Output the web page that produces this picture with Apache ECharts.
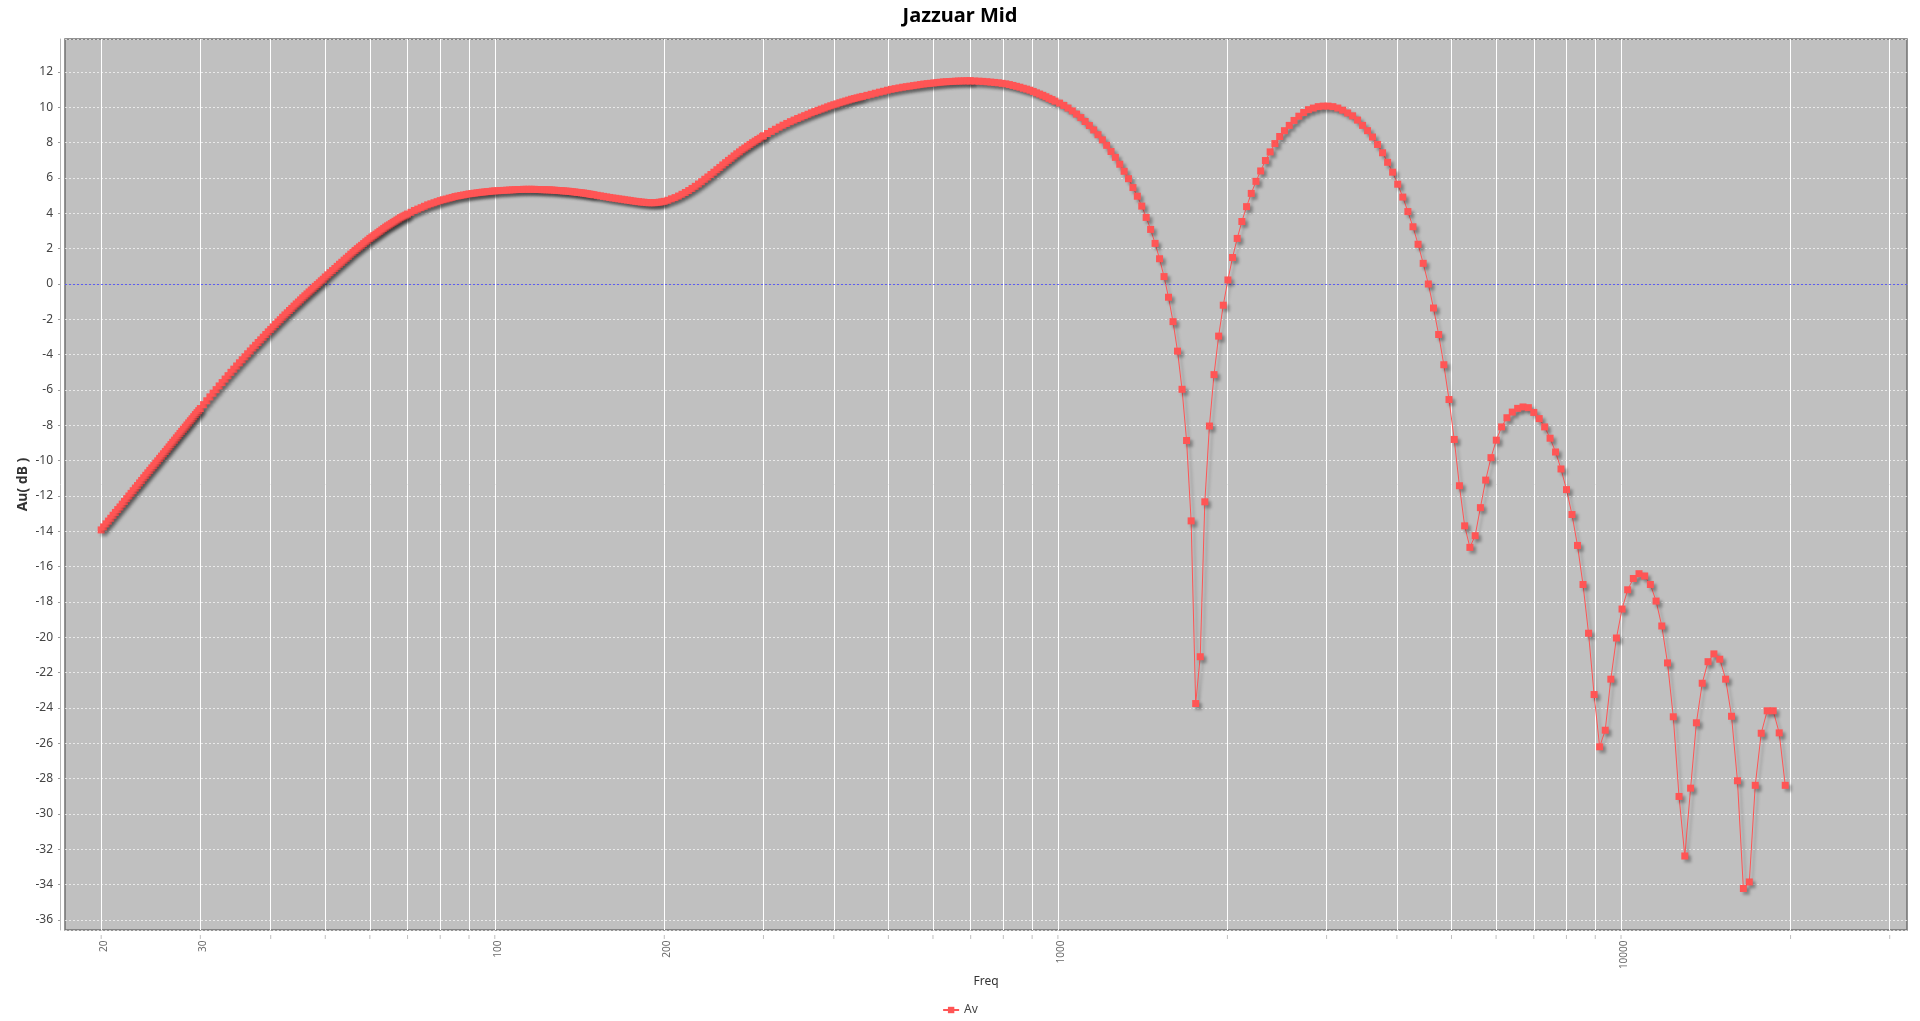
<!DOCTYPE html>
<html>
<head>
<meta charset="utf-8">
<title>Jazzuar Mid</title>
<script src="https://cdn.jsdelivr.net/npm/echarts@6/dist/echarts.min.js"></script>
<style>
html,body{margin:0;padding:0;background:#ffffff;}
#chart{width:1920px;height:1021px;}
</style>
</head>
<body>
<div id="chart"></div>
<script>
// ---- Data: frequency (Hz) and gain Av (dB) ----
const freqHz = [
  20,20.2,20.4,20.6,20.8,21,21.2,21.4,21.6,21.8,22,22.2,22.4,22.6,22.8,23,23.2,23.4,23.6,23.8,24,24.2,24.4,24.6,24.8,25,25.2,25.4,25.6,25.8,26,26.2,26.4,26.6,26.8,27,27.2,27.4,27.6,27.8,28,28.2,28.4,28.6,28.8,29,29.2,29.4,29.6,29.8,
  30,30.4,30.8,31.2,31.6,32,32.4,32.8,33.2,33.6,34,34.4,34.8,35.2,35.6,36,36.4,36.8,37.2,37.6,38,38.4,38.8,39.2,39.6,40,40.4,40.8,41.2,41.6,42,42.4,42.8,43.2,43.6,44,44.4,44.8,45.2,45.6,46,46.4,46.8,47.2,47.6,48,48.4,48.8,49.2,49.6,
  50,50.5,51,51.5,52,52.5,53,53.5,54,54.5,55,55.5,56,56.5,57,57.5,58,58.5,59,59.5,60,60.5,61,61.5,62,62.5,63,63.5,64,64.5,65,65.5,66,66.5,67,67.5,68,68.5,69,69.5,
  70,71,72,73,74,75,76,77,78,79,80,81,82,83,84,85,86,87,88,89,90,91,92,93,94,95,96,97,98,99,
  100,101.25,102.5,103.75,105,106.25,107.5,108.75,110,111.25,112.5,113.75,115,116.25,117.5,118.75,120,121.25,122.5,123.75,125,126.25,127.5,128.75,130,131.25,132.5,133.75,135,136.25,137.5,138.75,140,141.25,142.5,143.75,145,146.25,147.5,148.75,
  150,152,154,156,158,160,162,164,166,168,170,172,174,176,178,180,182,184,186,188,190,192,194,196,198,
  200,203,206,209,212,215,218,221,224,227,230,233,236,239,242,245,248,251,254,257,260,263,266,269,272,275,278,281,284,287,290,293,296,299,
  300,305,310,315,320,325,330,335,340,345,350,355,360,365,370,375,380,385,390,395,400,405,410,415,420,425,430,435,440,445,
  450,458,466,474,482,490,498,506,514,522,530,538,546,554,562,570,578,586,594,602,610,618,626,634,642,650,658,666,674,682,690,698,
  700,712,724,736,748,760,772,784,796,808,820,832,844,856,868,880,892,904,916,928,940,952,964,976,988,
  1006.9,1024.5,1042.4,1060.7,1079.3,1098.3,1117.7,1137.5,1157.7,1178.3,
  1199.3,1220.8,1242.6,1265.0,1287.8,1311.0,1334.7,1359.0,1383.7,1409.0,
  1434.7,1461.0,1487.9,1515.3,1543.3,1571.9,1601.1,1630.9,1661.3,1692.4,
  1724.2,1756.6,1789.7,1823.6,1858.1,1893.4,1929.5,1966.3,2004.0,2042.4,
  2081.7,2121.8,2162.9,2204.8,2247.6,2291.4,2336.2,2381.9,2428.7,2476.5,
  2525.3,2575.3,2626.3,2678.5,2731.9,2786.5,2842.3,2899.4,2957.8,3017.4,
  3078.5,3140.9,3204.8,3270.1,3337.0,3405.3,3475.3,3546.9,3620.1,3695.0,
  3771.7,3850.2,3930.4,4012.6,4096.7,4182.8,4270.9,4361.1,4453.4,4548.0,
  4644.7,4743.8,4845.3,4949.2,5055.6,5164.5,5276.1,5390.4,5507.4,5627.3,
  5750.1,5875.9,6004.8,6136.8,6272.1,6410.7,6552.8,6698.3,6847.5,7000.3,
  7157.0,7317.6,7482.2,7650.9,7823.9,8001.1,8182.9,8369.3,8560.5,8756.5,
  8957.5,9163.6,9375.0,9591.8,9814.2,10042,10276,10516,10763,11016,
  11275,11541,11814,12094,12382,12677,12980,13291,13610,13938,
  14274,14620,14975,15339,15713,16097,16492,16897,17313,17741,
  18180,18631,19095,19571
];
const gainDb = [
  -13.92,-13.75,-13.58,-13.42,-13.26,-13.09,-12.93,-12.77,-12.62,-12.46,-12.31,-12.15,-12.00,-11.85,-11.70,-11.55,-11.41,-11.26,-11.12,-10.97,-10.83,-10.69,-10.55,-10.41,-10.28,-10.14,-10.01,-9.87,-9.74,-9.61,-9.48,-9.35,-9.22,-9.09,-8.96,-8.84,-8.71,-8.59,-8.46,-8.34,-8.22,-8.10,-7.98,-7.86,-7.74,-7.63,-7.51,-7.39,-7.28,-7.17,
  -7.05,-6.83,-6.61,-6.39,-6.18,-5.98,-5.77,-5.58,-5.38,-5.19,-5.00,-4.82,-4.64,-4.46,-4.29,-4.12,-3.95,-3.79,-3.62,-3.47,-3.31,-3.16,-3.01,-2.86,-2.71,-2.57,-2.43,-2.29,-2.15,-2.02,-1.88,-1.75,-1.63,-1.50,-1.38,-1.25,-1.13,-1.02,-0.90,-0.78,-0.67,-0.56,-0.45,-0.34,-0.24,-0.13,-0.03,0.07,0.18,0.27,
  0.40,0.52,0.64,0.76,0.88,1.00,1.12,1.23,1.35,1.46,1.57,1.69,1.80,1.90,2.00,2.10,2.19,2.29,2.39,2.48,2.58,2.66,2.74,2.82,2.90,2.98,3.06,3.14,3.22,3.29,3.35,3.42,3.49,3.55,3.62,3.68,3.75,3.80,3.85,3.90,
  3.96,4.06,4.16,4.24,4.32,4.40,4.48,4.54,4.60,4.66,4.72,4.77,4.81,4.86,4.90,4.95,4.98,5.01,5.04,5.07,5.10,5.12,5.14,5.16,5.18,5.20,5.21,5.23,5.24,5.26,
  5.27,5.28,5.29,5.30,5.31,5.32,5.33,5.34,5.35,5.35,5.36,5.36,5.36,5.36,5.36,5.35,5.35,5.34,5.34,5.33,5.33,5.32,5.31,5.30,5.29,5.28,5.27,5.26,5.25,5.24,5.22,5.21,5.19,5.18,5.16,5.15,5.13,5.11,5.09,5.07,
  5.05,5.02,4.99,4.96,4.93,4.90,4.87,4.85,4.82,4.80,4.77,4.75,4.73,4.70,4.68,4.66,4.64,4.63,4.61,4.60,4.60,4.60,4.61,4.63,4.65,
  4.68,4.74,4.82,4.89,4.98,5.08,5.18,5.29,5.41,5.53,5.66,5.79,5.93,6.06,6.20,6.33,6.47,6.60,6.74,6.87,7.00,7.12,7.25,7.37,7.48,7.60,7.70,7.80,7.90,8.00,8.09,8.18,8.26,8.35,
  8.39,8.52,8.64,8.76,8.88,8.99,9.09,9.19,9.28,9.37,9.45,9.53,9.61,9.69,9.76,9.83,9.90,9.96,10.03,10.09,10.15,10.20,10.26,10.31,10.36,10.41,10.46,10.50,10.54,10.58,
  10.62,10.68,10.74,10.80,10.86,10.91,10.97,11.02,11.06,11.10,11.14,11.17,11.20,11.23,11.26,11.29,11.32,11.34,11.36,11.38,11.40,11.42,11.44,11.45,11.46,11.47,11.48,11.49,11.49,11.50,11.50,11.50,
  11.50,11.49,11.48,11.47,11.45,11.43,11.41,11.39,11.36,11.33,11.29,11.24,11.19,11.14,11.08,11.03,10.97,10.90,10.82,10.75,10.68,10.60,10.51,10.44,10.35,
  10.24,10.11,9.96,9.80,9.62,9.42,9.20,8.97,8.72,8.45,
  8.16,7.85,7.50,7.17,6.78,6.38,5.96,5.46,4.97,4.41,
  3.77,3.09,2.30,1.43,0.42,-0.75,-2.13,-3.80,-5.96,-8.86,
  -13.41,-23.75,-21.10,-12.33,-8.04,-5.13,-2.95,-1.20,0.23,1.50,
  2.58,3.54,4.38,5.13,5.81,6.40,6.99,7.48,7.95,8.35,
  8.68,8.98,9.26,9.50,9.71,9.87,9.96,10.04,10.07,10.07,
  10.04,9.96,9.84,9.68,9.52,9.28,8.98,8.68,8.32,7.90,
  7.43,6.89,6.33,5.65,4.92,4.10,3.24,2.25,1.17,0.00,
  -1.36,-2.86,-4.57,-6.54,-8.80,-11.42,-13.69,-14.91,-14.25,-12.66,
  -11.10,-9.83,-8.84,-8.09,-7.57,-7.25,-7.04,-6.96,-7.00,-7.27,
  -7.62,-8.09,-8.73,-9.51,-10.47,-11.64,-13.05,-14.80,-17.01,-19.77,
  -23.24,-26.20,-25.26,-22.37,-20.04,-18.40,-17.31,-16.67,-16.40,-16.53,
  -17.01,-17.95,-19.36,-21.45,-24.50,-29.01,-32.38,-28.54,-24.84,-22.60,
  -21.38,-20.94,-21.24,-22.37,-24.47,-28.12,-34.22,-33.85,-28.38,-25.43,
  -24.16,-24.16,-25.41,-28.38
];
// vertical grid lines (log axis major + minor ticks)
const gridFreqs = [20,30,40,50,60,70,80,90,100,200,300,400,500,600,700,800,900,1000,2000,3000,4000,5000,6000,7000,8000,9000,10000,20000,30000];
// frequency tick labels shown under the axis
const xTickLabels = [20,30,100,200,1000,10000];
const seriesName = 'Av';
const chartTitle = 'Jazzuar Mid';

const X_MIN = 17.25, X_MAX = 32200;
const Y_MIN = -36.57, Y_MAX = 13.87;
const FONT = 'Noto Sans';

const seriesData = freqHz.map((f, i) => [f, gainDb[i]]);
const shadow = { shadowColor: 'rgba(0,0,0,0.28)', shadowBlur: 3, shadowOffsetX: 3, shadowOffsetY: 3 };

const chart = echarts.init(document.getElementById('chart'), null, { renderer: 'canvas' });
chart.setOption({
  animation: false,
  backgroundColor: '#ffffff',
  textStyle: { fontFamily: FONT },
  title: {
    text: chartTitle, left: 'center', top: 1,
    textStyle: { fontFamily: FONT, fontSize: 20, fontWeight: 'bold', color: '#000000' }
  },
  legend: {
    data: [seriesName], bottom: 0, left: 'center', itemWidth: 16, itemHeight: 8, itemGap: 6,
    textStyle: { fontFamily: FONT, fontSize: 12, color: '#444444' }
  },
  grid: {
    left: 65, right: 13, top: 39, bottom: 91, show: true,
    backgroundColor: '#c0c0c0', borderColor: '#707070', borderWidth: 1.5
  },
  xAxis: {
    type: 'log', logBase: 10, min: X_MIN, max: X_MAX, offset: 5,
    name: 'Freq', nameLocation: 'middle', nameGap: 40.5, nameMoveOverlap: false,
    nameTextStyle: { fontFamily: FONT, fontSize: 12, color: '#333333' },
    axisLine: { show: true, lineStyle: { color: '#b8b8b8', width: 1 } },
    axisTick: { show: false }, axisLabel: { show: false }, splitLine: { show: false }
  },
  yAxis: {
    type: 'value', min: Y_MIN, max: Y_MAX, splitNumber: 25, minInterval: 2, maxInterval: 2, offset: 5,
    name: 'Au( dB )', nameLocation: 'middle', nameGap: 30, nameMoveOverlap: false,
    nameTextStyle: { fontFamily: FONT, fontSize: 14, fontWeight: 'bold', color: '#333333' },
    axisLine: { show: true, lineStyle: { color: '#b8b8b8', width: 1 } },
    axisTick: { show: true, length: 2, lineStyle: { color: '#999999' } },
    axisLabel: { fontFamily: FONT, fontSize: 12, color: '#444444', margin: 7, showMinLabel: false, showMaxLabel: false },
    splitLine: { show: true, lineStyle: { color: 'rgba(255,255,255,0.65)', type: [2, 2], width: 1 } }
  },
  series: [
    {
      name: seriesName, type: 'line', data: seriesData, z: 3,
      symbol: 'rect', symbolSize: 7, showSymbol: true, showAllSymbol: true,
      lineStyle: Object.assign({ color: '#ff5555', width: 1 }, shadow),
      itemStyle: Object.assign({ color: '#ff5555' }, shadow),
      emphasis: { disabled: true },
      markLine: {
        silent: true, z: 1, symbol: ['none', 'none'], animation: false,
        label: { show: false }, emphasis: { disabled: true },
        lineStyle: { color: '#ffffff', width: 1, type: 'solid' },
        data: gridFreqs.map(v => ({ xAxis: v })).concat([
          { yAxis: 0, lineStyle: { color: 'rgba(70,70,255,0.8)', type: [2, 2], width: 1 } }
        ])
      }
    },
    {
      type: 'scatter', silent: true, clip: false, z: 4,
      data: gridFreqs.map(v => [v, Y_MIN]),
      symbol: 'rect', symbolSize: [1, 4], symbolOffset: [0, 7],
      itemStyle: { color: '#b0b0b0' }
    },
    {
      type: 'scatter', silent: true, clip: false, z: 4,
      data: xTickLabels.map(v => [v, Y_MIN]),
      symbol: 'rect', symbolSize: 1, itemStyle: { color: 'rgba(0,0,0,0)' },
      label: {
        show: true, position: 'bottom', distance: 10, rotate: 90,
        align: 'right', verticalAlign: 'middle', offset: [0, 3],
        formatter: p => String(p.value[0]),
        fontFamily: FONT, fontSize: 10, color: '#444444'
      }
    }
  ]
});
</script>
</body>
</html>
